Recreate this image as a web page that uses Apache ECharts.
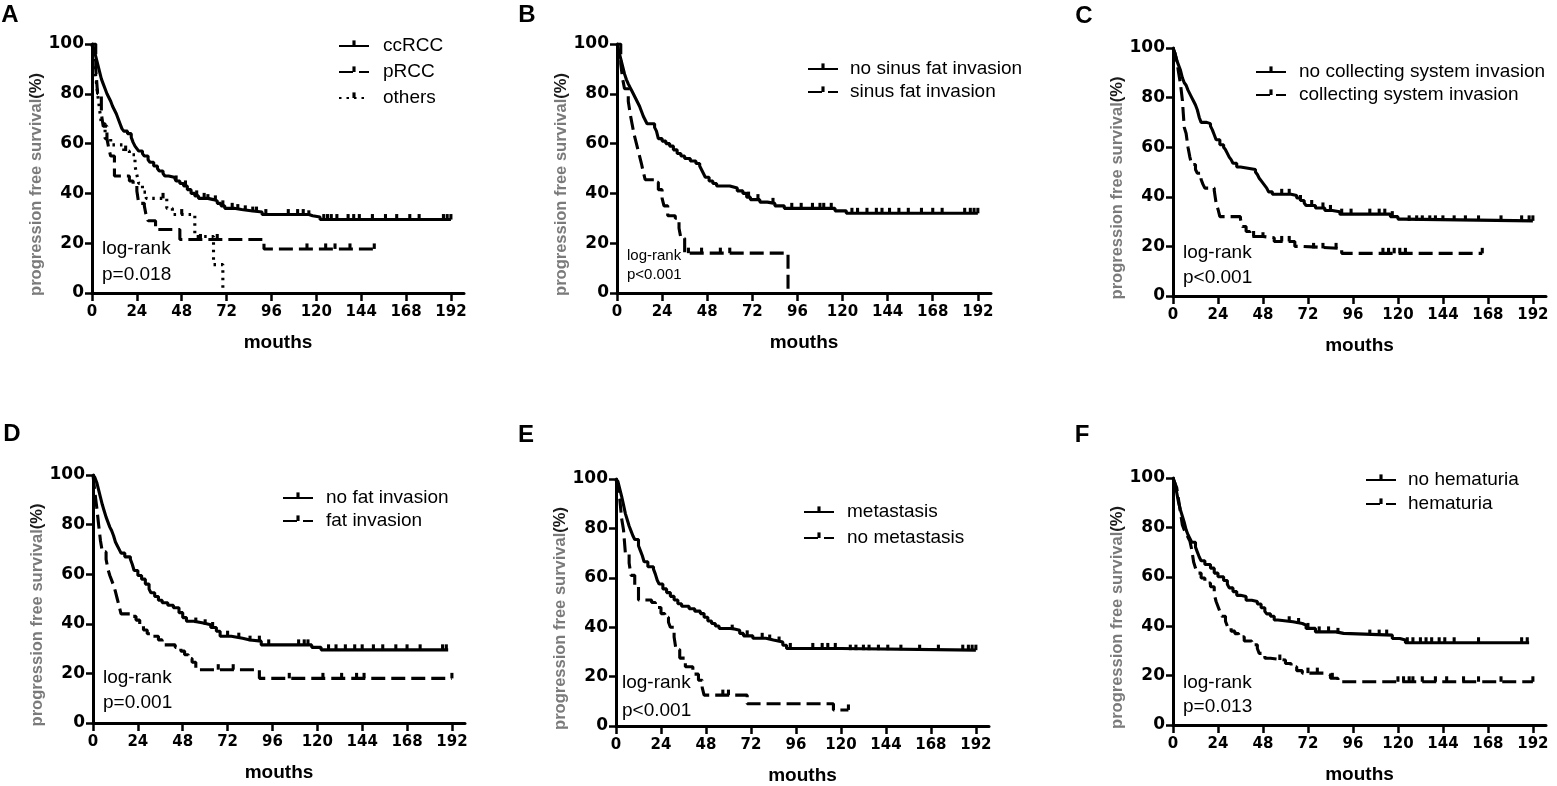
<!DOCTYPE html>
<html><head><meta charset="utf-8">
<script src="https://cdn.jsdelivr.net/npm/echarts@6.0.0/dist/echarts.min.js"></script>
<style>html,body{margin:0;padding:0;background:#fff}#c{width:1557px;height:786px}</style>
</head><body><div id="c"></div>
<script>
// ---------- DATA ----------
const xTickValues = [0, 24, 48, 72, 96, 120, 144, 168, 192];
const panelLetters = ['A', 'B', 'C', 'D', 'E', 'F'];
const logRankPValues = ['p=0.018', 'p<0.001', 'p<0.001', 'p=0.001', 'p<0.001', 'p=0.013'];
const xAxisTitle = 'mouths';
const yAxisTitle = 'progression free survival';

// Panel A
const ccRCCSteps = [[0,100],[1,98],[2,95],[3,92],[4,89],[5,86],[6,84],[7,82],[8,80],[9,78.5],[10,77],[11,75],[12,73.5],[13,72],[14,70],[15,68],[16,66],[17,65],[19,64],[21,62.5],[22,60.5],[23,59],[24,58],[25,57],[27,56],[28,55],[30,53.5],[31,52.5],[33,51],[35,50],[36,49],[38,48],[39,47],[41,46.5],[44,46],[45,45],[47,44],[49,43],[51,41.5],[53,40],[55,39],[57,38],[62,37.5],[65,37],[67,36],[69,35],[71,34],[76,33.5],[80,33],[85,32.5],[91,31.5],[116,31],[118,30.5],[122,29.5]];
const ccRCCEnd = 192;
const ccRCCCensored = [45,50,56,60,62,66,70,75,78,82,86,88,93,105,110,113,116,124,126,128,131,137,140,143,150,157,163,170,175,188,190,192];
const pRCCSteps = [[0,100],[2,90],[3,80],[5,72],[6,67],[8,62],[9,58],[10,55],[12,47],[20,45],[22,43],[24,41],[25,36],[28,35],[29,31],[30,29],[34,25.5],[47,21.5],[92,17.7]];
const pRCCEnd = 151;
const pRCCCensored = [58,67,115,125,130,138,151];
const othersSteps = [[0,100],[1,93],[2,87],[3,80],[4,74],[5,68],[7,62],[10,59.5],[17,57],[20,55.5],[23,51],[24,47.5],[25,44],[27,40.5],[29,38],[40,34],[43,31.5],[55,22.7],[65,11.4],[70,0]];
const othersEnd = 70;
const othersCensored = [18,38,48];

// Panel B
const noSinusSteps = [[0,100],[1,97],[2,94],[3,91],[4,88],[5,85.7],[6,84],[7,82.5],[8,81],[9,79.5],[10,78],[11,76.5],[12,75],[13,73],[14,71],[15,69.5],[16,68],[20,66.5],[21,65],[22,62],[24,61],[26,60],[28,59],[30,57.5],[32,56],[34,55],[36,54],[39,53],[42,52],[44,51],[45,49.5],[46,48],[47,46.5],[49,45],[51,44],[53,43],[60,42.2],[64,41],[67,40],[69,38.5],[71,37.5],[76,36.5],[80,36],[84,35],[89,34],[116,33],[122,32]];
const noSinusEnd = 192;
const noSinusCensored = [70,75,83,93,98,104,108,110,114,125,128,133,138,141,145,150,155,162,168,173,185,188,190,192];
const sinusSteps = [[0,100],[2,92],[3,86],[4,82],[6,77],[7,72],[8,68],[9,64],[10,61],[11,58],[12,55],[13,52],[14,48.5],[15,45.5],[20,44.5],[22,41.5],[24,38],[25,35],[27,31],[31,30],[33,26],[34,22],[36,16],[91,0]];
const sinusEnd = 91;
const sinusCensored = [38,45,55,60];

// Panel C
const noCollectSteps = [[0,100],[1,98],[2,95],[3,93],[4,91],[5,88],[6,86],[7,85],[8,83],[9,81.5],[10,80],[11,78.5],[12,77],[13,75],[14,72],[15,70],[18,69.5],[20,68.5],[21,67],[22,65],[23,63],[25,61],[27,60],[28,59],[29,57.5],[30,56],[31,55],[32,53.5],[34,52],[36,51.5],[40,51],[44,50],[45,49],[46,47.5],[47,46.5],[48,45.5],[49,44.5],[50,43.5],[51,42],[53,41],[63,40.5],[66,39.5],[68,38.5],[70,37.5],[71,36.5],[76,35.5],[81,34.5],[85,34],[89,33],[116,32],[120,31],[123,30.3]];
const noCollectEnd = 192;
const noCollectCensored = [58,62,68,74,80,84,90,95,105,110,113,117,126,130,133,137,140,144,150,156,163,175,186,190,192];
const collectSteps = [[0,100],[1,98],[2,95],[3,90],[4,85.5],[5,79],[6,68],[7,65.5],[8,60],[9,56],[10,53],[12,51],[13,49.5],[15,47],[16,45],[17,43.5],[22,42.5],[23,37.5],[24,35],[25,32],[36,31],[37,28],[39,26],[41,24],[48,23.5],[54,22],[65,20],[69,19.2],[90,17.2]];
const collectEnd = 165;
const collectCensored = [43,48,58,62,75,80,87,112,115,118,121,124,165];

// Panel D
const noFatSteps = [[0,100],[1,99],[2,97],[3,94],[4,91],[5,88],[6,85.5],[7,83],[8,81],[9,79],[10,77.5],[11,75.5],[12,73],[13,71.5],[14,70],[15,68.5],[17,67],[20,66],[21,64],[22,61.5],[24,59.5],[26,58],[28,56],[30,54],[31,52.5],[33,51],[35,49.5],[37,48.5],[40,47.5],[43,46.5],[46,44.5],[48,42.5],[50,41],[54,40.3],[59,39.6],[63,38.5],[66,37],[68,35],[74,34.2],[80,33.5],[84,33],[90,31.5],[117,30.5],[122,29.5]];
const noFatEnd = 190;
const noFatCensored = [55,60,64,72,78,84,89,94,110,113,115,126,130,135,140,144,150,155,162,168,175,187,189];
const fatSteps = [[0,100],[1,93],[2,87],[3,80],[4,73.5],[5,69],[7,66],[8,62],[9,59.5],[10,57.5],[11,55.5],[12,53],[13,50],[14,47],[15,44],[21,43],[23,41.5],[25,39.5],[27,37.5],[29,36],[32,35],[35,33.5],[37,31.5],[44,30.5],[47,29],[49,27.5],[51,26],[53,24.5],[55,21.5],[89,18]];
const fatEnd = 192;
const fatCensored = [67,75,105,123,133,141,145,192];

// Panel E
const metaSteps = [[0,100],[1,99],[2,96],[3,93],[4,89.5],[5,86],[6,83.5],[7,81],[8,79],[9,77],[10,75.5],[12,73],[13,71],[14,69],[15,66.5],[17,64.5],[20,63.5],[21,61.5],[22,59],[23,57.5],[25,55.5],[27,54],[29,52.5],[31,51],[33,49.5],[35,48.5],[39,47.5],[42,46.5],[45,45.5],[47,44],[49,42.5],[51,41.5],[53,40.5],[55,39.5],[62,38.8],[66,37.5],[68,36.5],[73,35.5],[80,34.8],[84,34],[89,32.7],[91,31.4],[120,30.7]];
const metaEnd = 192;
const metaCensored = [62,70,78,82,87,93,105,110,113,117,125,128,132,135,140,145,152,162,172,185,188,190,192];
const noMetaSteps = [[0,100],[1,96],[2,92],[3,84],[4,79.5],[5,70],[7,66],[8,61],[10,56.5],[12,51],[19,50],[21,48],[24,45.5],[26,44],[28,42],[29,40],[31,36],[32,31],[34,27.5],[37,24],[41,21],[44,18.5],[46,15.5],[47,12.5],[70,9],[116,6.5]];
const noMetaEnd = 124;
const noMetaCensored = [57,60,124];

// Panel F
const noHemSteps = [[0,100],[1,98],[2,94],[3,90],[4,87],[5,84.5],[6,82],[7,79],[8,77],[9,75.5],[10,74],[12,72],[13,70],[14,68],[15,66.5],[17,65],[20,63.5],[22,61.5],[24,60],[27,58.5],[29,57],[30,55.5],[32,54],[34,52.5],[36,52],[39,50.5],[42,50],[45,49],[47,47.5],[49,46],[50,45],[52,44],[54,42.5],[56,41.8],[64,41.1],[69,40.4],[71,39.1],[76,37.7],[87,37.1],[91,36.4],[117,35],[121,34.4],[124,33.3]];
const noHemEnd = 190;
const noHemCensored = [62,67,72,78,83,88,105,110,114,125,128,132,135,138,142,145,150,163,186,189];
const hemSteps = [[0,100],[1,98],[2,96],[3,91],[4,86],[5,81],[6,79],[7,77.5],[8,76],[9,74.5],[10,71],[11,66],[12,63.5],[13,61.5],[15,59.5],[17,57.5],[20,56],[22,53],[23,50],[24,48],[25,46],[26,44],[28,42],[29,40],[31,38],[33,37],[35,35.7],[38,34],[42,32.5],[45,31],[46,29],[49,27],[52,26.3],[60,24.9],[63,23.6],[66,22],[69,21],[82,20.2],[84,18.9],[88,17.5]];
const hemEnd = 192;
const hemCensored = [57,72,77,85,120,123,126,128,133,140,146,155,163,175,192];

// ---------- STRUCTURE (which curves go in which panel) ----------
const panelCurves = [
  [['ccRCC', ccRCCSteps, ccRCCEnd, ccRCCCensored, 'solid'], ['pRCC', pRCCSteps, pRCCEnd, pRCCCensored, 'dashed'], ['others', othersSteps, othersEnd, othersCensored, 'dotted']],
  [['no sinus fat invasion', noSinusSteps, noSinusEnd, noSinusCensored, 'solid'], ['sinus fat invasion', sinusSteps, sinusEnd, sinusCensored, 'dashed']],
  [['no collecting system invasion', noCollectSteps, noCollectEnd, noCollectCensored, 'solid'], ['collecting system invasion', collectSteps, collectEnd, collectCensored, 'dashed']],
  [['no fat invasion', noFatSteps, noFatEnd, noFatCensored, 'solid'], ['fat invasion', fatSteps, fatEnd, fatCensored, 'dashed']],
  [['metastasis', metaSteps, metaEnd, metaCensored, 'solid'], ['no metastasis', noMetaSteps, noMetaEnd, noMetaCensored, 'dashed']],
  [['no hematuria', noHemSteps, noHemEnd, noHemCensored, 'solid'], ['hematuria', hemSteps, hemEnd, hemCensored, 'dashed']]
];

// ---------- LAYOUT ----------
const gridLayout = [
  {left: 92, top: 44, width: 372, height: 249},
  {left: 617, top: 44, width: 374, height: 249},
  {left: 1173, top: 48, width: 373, height: 248},
  {left: 93, top: 475, width: 372, height: 248},
  {left: 616, top: 479, width: 373, height: 247},
  {left: 1173, top: 478, width: 373, height: 247}
];
const legendLayout = [
  {left: 338, top: 36, gap: 6, pad: 9},
  {left: 807, top: 59, gap: 3, pad: 7},
  {left: 1255, top: 62, gap: 3, pad: 8},
  {left: 282, top: 488, gap: 3, pad: 8},
  {left: 803, top: 502, gap: 6, pad: 8},
  {left: 1365, top: 470, gap: 4, pad: 7}
];
const letterLayout = [[10, 15], [527, 15], [1084, 16], [12, 434], [526, 435], [1082, 435]];
const logRankLayout = [
  {x: 102, y1: 249, y2: 275, size: 19},
  {x: 627, y1: 256, y2: 275, size: 15},
  {x: 1183, y1: 253, y2: 278, size: 19},
  {x: 103, y1: 678, y2: 703, size: 19},
  {x: 622, y1: 683, y2: 711, size: 19},
  {x: 1183, y1: 683, y2: 707, size: 19}
];

const TICK = 'path://M0,0M10,10M3.6,0L6.4,0L6.4,5L3.6,5Z';
const dashTypes = {solid: 'solid', dashed: [14, 6], dotted: [2.5, 5]};

function survivalAt(steps, t) {
  let v = steps[0][1];
  for (const p of steps) { if (p[0] <= t) v = p[1]; else break; }
  return v;
}

const grids = [], xAxes = [], yAxes = [], series = [], legends = [], graphics = [];
panelCurves.forEach((curves, i) => {
  grids.push(Object.assign({outerBoundsMode: 'none', containLabel: false}, gridLayout[i]));
  xAxes.push({
    gridIndex: i, type: 'value', min: 0, max: 199,
    axisLine: {show: true, onZero: false, lineStyle: {color: '#000', width: 3}},
    axisTick: {show: true, length: 8, customValues: xTickValues, lineStyle: {color: '#000', width: 2.5}},
    axisLabel: {customValues: xTickValues, fontSize: 15, fontWeight: 'bold', fontFamily: 'DejaVu Sans', color: '#000', margin: 12},
    splitLine: {show: false},
    name: xAxisTitle, nameLocation: 'middle', nameGap: 40,
    nameTextStyle: {fontSize: 19, fontWeight: 'bold', fontFamily: 'Liberation Sans', color: '#000'}
  });
  yAxes.push({
    gridIndex: i, type: 'value', min: 0, max: 100, interval: 20,
    axisLine: {show: true, onZero: false, lineStyle: {color: '#000', width: 3}},
    axisTick: {show: true, length: 7, lineStyle: {color: '#000', width: 2.5}},
    axisLabel: {fontSize: 17, fontWeight: 'bold', fontFamily: 'DejaVu Sans', color: '#000', margin: 8},
    splitLine: {show: false},
    name: '{a|' + yAxisTitle + '}{b|(%)}', nameLocation: 'middle', nameRotate: 90, nameGap: 47,
    nameTextStyle: {padding: [0, 32, 0, 0], rich: {
      a: {fontSize: 16.5, color: '#7a7a7a', fontWeight: 'bold', fontFamily: 'Liberation Sans'},
      b: {fontSize: 16.5, color: '#1a1a1a', fontWeight: 'bold', fontFamily: 'Liberation Sans'}
    }}
  });
  const names = [];
  curves.forEach(([name, steps, end, censored, style]) => {
    names.push(name);
    const data = steps.map(p => [p[0], p[1]]);
    data.push([end, steps[steps.length - 1][1]]);
    series.push({
      type: 'line', name, xAxisIndex: i, yAxisIndex: i, step: 'end', data,
      symbol: TICK, showSymbol: false, silent: true, animation: false,
      lineStyle: {color: '#000', width: 3.1, type: dashTypes[style]},
      itemStyle: {color: '#000'}
    });
    series.push({
      type: 'scatter', xAxisIndex: i, yAxisIndex: i, silent: true, animation: false,
      data: censored.map(t => [t, survivalAt(steps, t)]),
      symbol: TICK, symbolSize: 11, itemStyle: {color: '#000', opacity: 1}
    });
  });
  const L = legendLayout[i];
  legends.push({
    orient: 'vertical', left: L.left, top: L.top, itemWidth: 30, itemHeight: 14, itemGap: L.gap,
    selectedMode: false, data: names, padding: 0,
    textStyle: {fontSize: 19, fontFamily: 'Liberation Sans', color: '#000', lineHeight: 20, padding: [0, 0, 0, L.pad]}
  });
  const [lx, ly] = letterLayout[i];
  graphics.push({type: 'text', x: lx, y: ly, style: {text: panelLetters[i], fontSize: 24, fontWeight: 'bold', fontFamily: 'Liberation Sans', fill: '#000', align: 'center', verticalAlign: 'middle'}});
  const R = logRankLayout[i];
  graphics.push({type: 'text', x: R.x, y: R.y1, style: {text: 'log-rank', fontSize: R.size, fontFamily: 'Liberation Sans', fill: '#000', align: 'left', verticalAlign: 'middle'}});
  graphics.push({type: 'text', x: R.x, y: R.y2, style: {text: logRankPValues[i], fontSize: R.size, fontFamily: 'Liberation Sans', fill: '#000', align: 'left', verticalAlign: 'middle'}});
});

const chart = echarts.init(document.getElementById('c'), null, {renderer: 'canvas'});
chart.setOption({
  backgroundColor: '#fff', animation: false,
  grid: grids, xAxis: xAxes, yAxis: yAxes, series, legend: legends, graphic: graphics
});
</script></body></html>
